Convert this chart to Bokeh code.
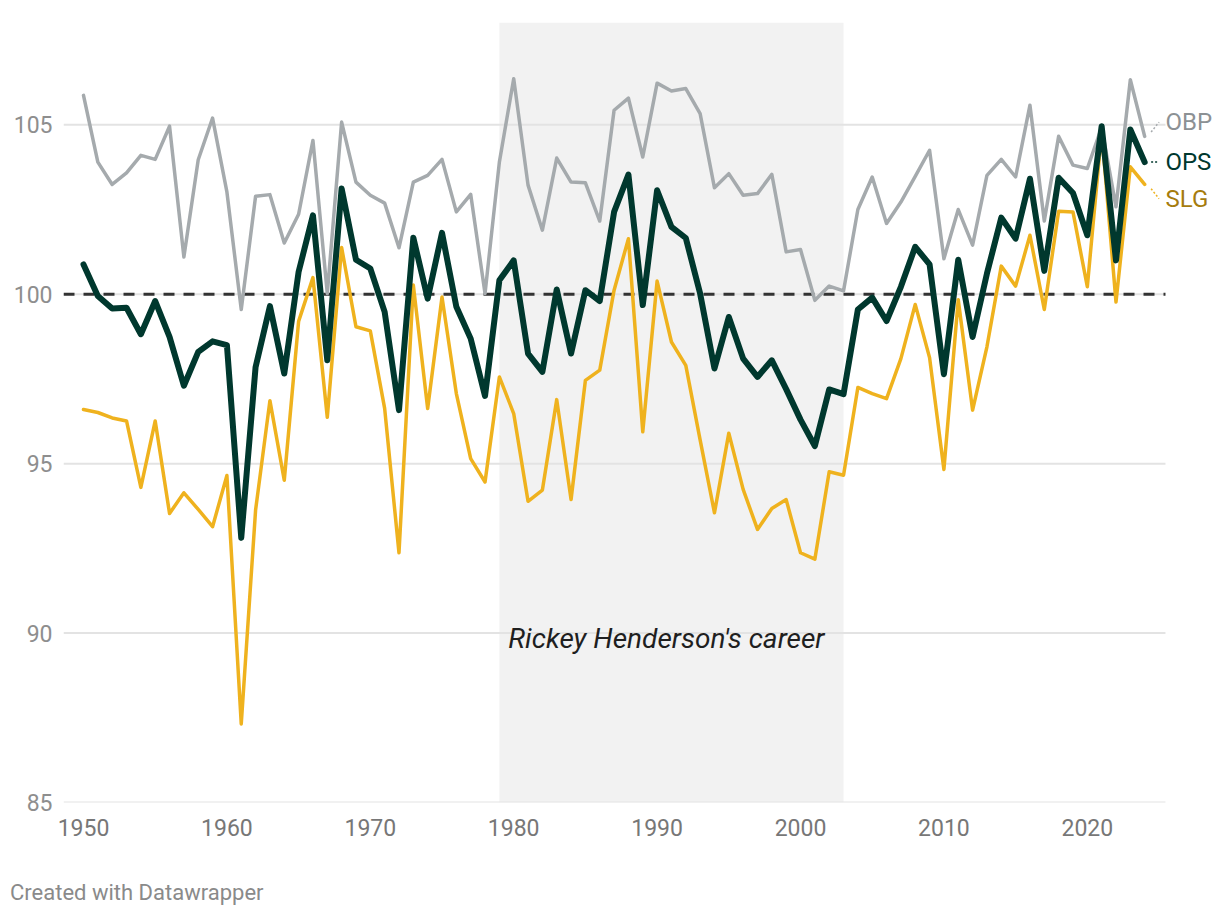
from bokeh.plotting import figure
from bokeh.models import Range1d, FixedTicker, BoxAnnotation, Label, Div
from bokeh.layouts import column
from bokeh.embed import file_html
from bokeh.resources import INLINE

years = list(range(1950, 2025))

obp = [105.87, 103.9, 103.24, 103.58, 104.1, 103.98, 104.96, 101.1, 103.97, 105.2,
       103.02, 99.55, 102.89, 102.94, 101.51, 102.36, 104.54, 100.02, 105.08, 103.31,
       102.92, 102.69, 101.37, 103.31, 103.51, 103.98, 102.43, 102.95, 100.02, 103.9,
       106.36, 103.22, 101.89, 104.02, 103.31, 103.29, 102.16, 105.43, 105.79, 104.05,
       106.23, 106.0, 106.07, 105.33, 103.14, 103.56, 102.92, 102.97, 103.54, 101.25,
       101.32, 99.82, 100.24, 100.1, 102.5, 103.46, 102.09, 102.72, 103.48, 104.25,
       101.05, 102.5, 101.45, 103.51, 103.98, 103.46, 105.58, 102.16, 104.66, 103.81,
       103.71, 104.93, 102.58, 106.33, 104.66]

ops = [100.88, 99.95, 99.58, 99.6, 98.82, 99.8, 98.74, 97.3, 98.3, 98.61,
       98.5, 92.81, 97.85, 99.65, 97.66, 100.66, 102.33, 98.05, 103.12, 101.02,
       100.76, 99.48, 96.58, 101.67, 99.87, 101.81, 99.63, 98.69, 97.0, 100.41,
       101.0, 98.25, 97.71, 100.14, 98.25, 100.12, 99.8, 102.43, 103.53, 99.68,
       103.07, 101.99, 101.66, 100.02, 97.81, 99.33, 98.1, 97.56, 98.05, 97.2,
       96.3, 95.52, 97.19, 97.05, 99.55, 99.9, 99.21, 100.22, 101.4, 100.88,
       97.64, 101.02, 98.74, 100.61, 102.26, 101.64, 103.41, 100.69, 103.44, 102.99,
       101.74, 104.96, 101.0, 104.86, 103.9]

slg = [96.6, 96.51, 96.35, 96.26, 94.3, 96.26, 93.53, 94.14, 93.65, 93.14,
       94.65, 87.32, 93.63, 96.86, 94.51, 99.2, 100.49, 96.37, 101.38, 99.04,
       98.92, 96.63, 92.37, 100.27, 96.63, 99.92, 97.07, 95.15, 94.46, 97.56,
       96.48, 93.89, 94.22, 96.89, 93.94, 97.46, 97.76, 100.12, 101.64, 95.94,
       100.39, 98.59, 97.9, 95.7, 93.55, 95.9, 94.24, 93.06, 93.68, 93.94,
       92.37, 92.18, 94.76, 94.66, 97.25, 97.07, 96.92, 98.1, 99.7, 98.13,
       94.83, 99.84, 96.58, 98.45, 100.83, 100.24, 101.74, 99.55, 102.45, 102.43,
       100.22, 104.8, 99.77, 103.76, 103.24]

career = (1979, 2003)
y_ticks = [85, 90, 95, 100, 105]
x_ticks = [1950, 1960, 1970, 1980, 1990, 2000, 2010, 2020]
baseline = 100

FONT = "Roboto"
X0, X1 = 1948.605, 2028.73     # frame extent (frame runs to the right edge for end labels)
GX1 = 2025.45                  # where gridlines stop

p = figure(width=1212, height=882, output_backend="svg", toolbar_location=None,
           x_range=Range1d(X0, X1), y_range=Range1d(85, 108.02),
           min_border_left=63, min_border_right=0, min_border_top=22,
           min_border_bottom=80, background_fill_color="white",
           border_fill_color="white", outline_line_color=None)

# shaded career band
p.add_layout(BoxAnnotation(left=career[0], right=career[1], fill_color="#f2f2f2",
                           fill_alpha=1.0, line_color=None, level="image"))

# grid lines (bounded so they stop before the end labels)
p.xgrid.grid_line_color = None
p.ygrid.grid_line_color = None
p.segment(x0=[X0] * len(y_ticks), x1=[GX1] * len(y_ticks), y0=y_ticks, y1=y_ticks,
          line_color="#e3e3e3", line_width=2)
p.segment(x0=[X0], x1=[GX1], y0=[baseline], y1=[baseline], line_color="#333333",
          line_width=3, line_dash="11 9")

# axes
p.xaxis.ticker = FixedTicker(ticks=x_ticks)
p.yaxis.ticker = FixedTicker(ticks=y_ticks)
for ax in (p.xaxis[0], p.yaxis[0]):
    ax.axis_line_color = None
    ax.major_tick_line_color = None
    ax.minor_tick_line_color = None
    ax.major_tick_out = 0
    ax.major_tick_in = 0
    ax.major_label_text_font = FONT
    ax.major_label_text_font_size = "23px"
p.xaxis.major_label_text_color = "#777777"
p.yaxis.major_label_text_color = "#8e8e8e"
p.xaxis.major_label_standoff = 16
p.yaxis.major_label_standoff = 11

# lines
p.line(years, obp, line_color="#a5aaad", line_width=3.5, line_join="round", line_cap="round")
p.line(years, slg, line_color="#efb21e", line_width=3.5, line_join="round", line_cap="round")
p.line(years, ops, line_color="#00382e", line_width=6, line_join="round", line_cap="round")

# end labels with connectors
label_specs = [
    ("OBP", obp[-1], 0.42, "#a5aaad", "#8c9194"),
    ("OPS", ops[-1], 0.0, "#00382e", "#00382e"),
    ("SLG", slg[-1], -0.42, "#efb21e", "#a67c0e"),
]
for name, last, off, lc, tc in label_specs:
    ly = last + off
    p.line([years[-1] + 0.45, GX1 - 0.45], [last + off * 0.3, ly], line_color=lc,
           line_width=1.5, line_dash="2 2")
    p.add_layout(Label(x=GX1, y=ly, text=name, text_font=FONT, text_font_size="24px",
                       text_color=tc, text_align="left", text_baseline="middle",
                       x_offset=0))

# annotation
p.add_layout(Label(x=(career[0] + career[1]) / 2, y=89.85, text="Rickey Henderson's career",
                   text_font=FONT, text_font_style="italic", text_font_size="28px",
                   text_color="#1f1f1f", text_align="center", text_baseline="middle",
                   x_offset=-5))

footer = Div(text="Created with Datawrapper", width=400, height=24,
             margin=(0, 0, 0, 10),
             styles={"font-family": "Roboto", "font-size": "22px", "color": "#8a8a8a",
                     "line-height": "22px"})

layout = column(p, footer, spacing=0)
open("out.html", "w").write(file_html(layout, INLINE))
